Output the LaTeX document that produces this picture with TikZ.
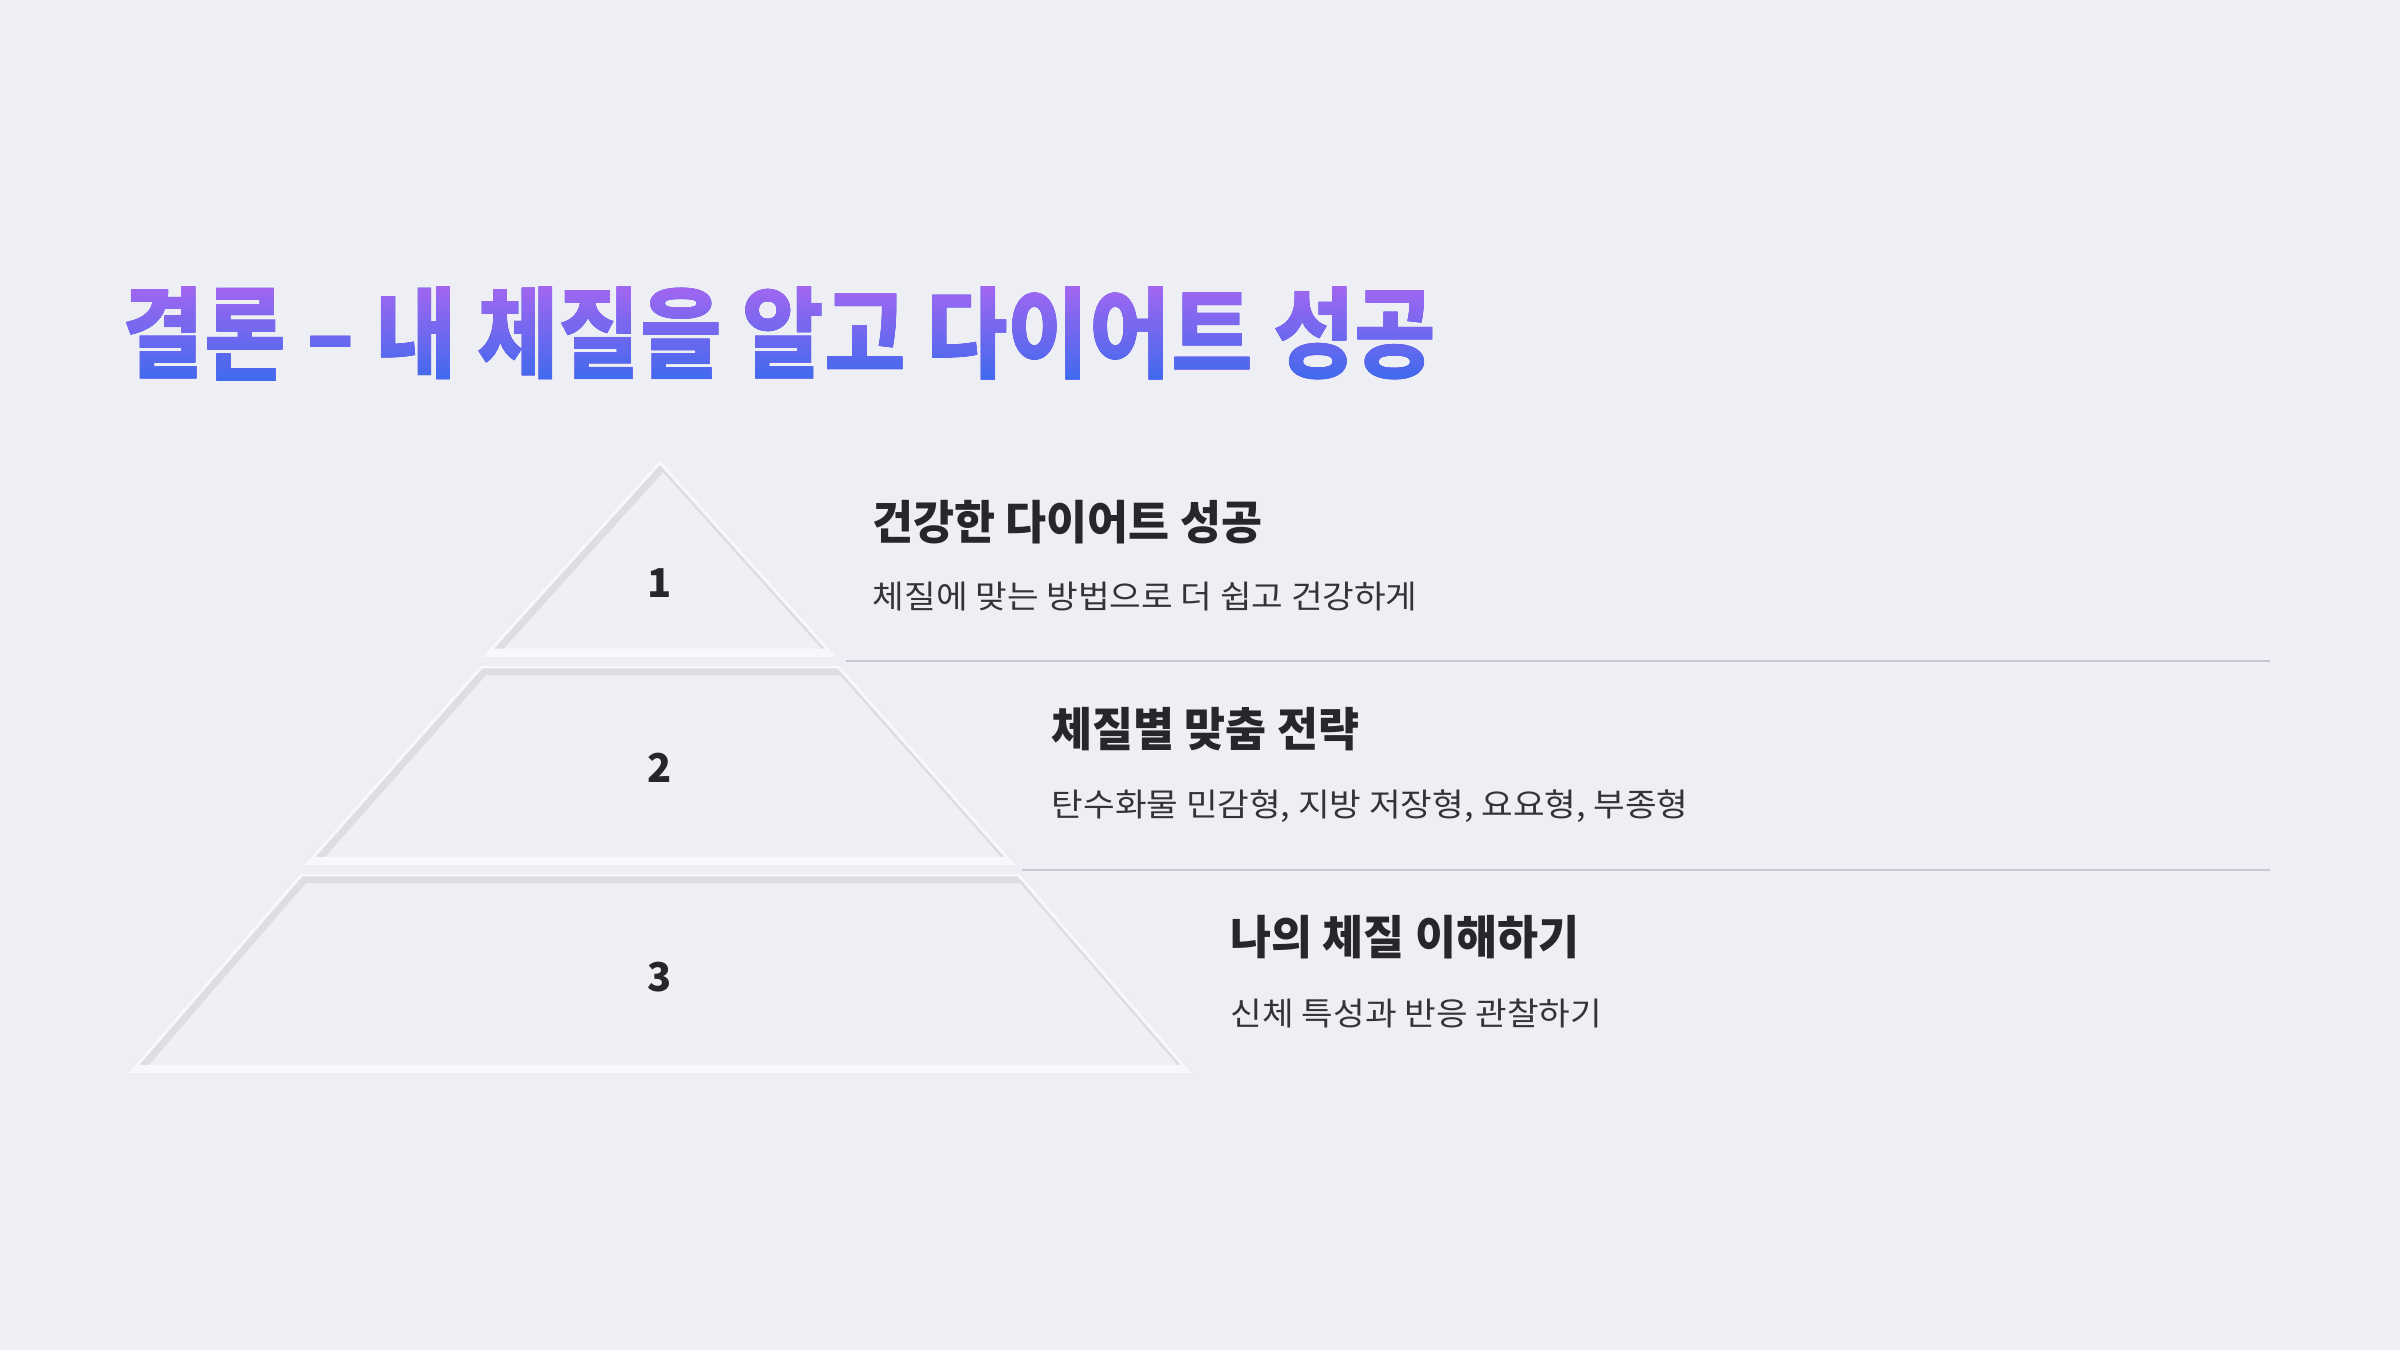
\documentclass[tikz,border=0pt]{standalone}
\usepackage{fontspec}
\setmainfont{Noto Sans CJK KR}
\newfontfamily\titlefont[FakeStretch=0.895]{Noto Sans CJK KR}
\newfontfamily\headfont[FakeStretch=0.96]{Noto Sans CJK KR}
\newfontfamily\bodyfont[FakeStretch=1.075]{Noto Sans CJK KR}
\newfontfamily\numfont{Noto Sans CJK KR}
\usepackage{tikz}
\usetikzlibrary{positioning, calc}
\definecolor{bgcol}{HTML}{EEEFF4}
\definecolor{tiercol}{HTML}{EFF0F5}
\definecolor{ink}{HTML}{26262B}
\definecolor{inksoft}{HTML}{333338}
\definecolor{rulecol}{HTML}{C6C7D3}
\definecolor{shadecol}{HTML}{DDDEE4}
\definecolor{lightcol}{HTML}{F8F8FB}
\definecolor{titletop}{HTML}{A066F0}
\definecolor{titlebot}{HTML}{3E6AEE}

\begin{document}
\begin{tikzpicture}[x=0.01cm, y=-0.01cm]
    % Styles
    \tikzstyle{head}=[anchor=base west, inner sep=0pt, text=ink, font=\headfont\bfseries\fontsize{13.2}{16}\selectfont]
    \tikzstyle{sub}=[anchor=base west, inner sep=0pt, text=inksoft, font=\bodyfont\fontsize{9.1}{11}\selectfont]
    \tikzstyle{num}=[anchor=base, inner sep=0pt, text=ink, font=\numfont\bfseries\fontsize{11.3}{13}\selectfont]
    \tikzstyle{rule}=[draw=rulecol, line width=0.6pt]
    \tikzstyle{inshadow}=[draw=shadecol, line width=3.5]
    \tikzstyle{inlight}=[draw=lightcol, line width=3]

    % Background
    \fill[bgcol] (0,0) rectangle (2400,1350);
    \useasboundingbox (0,0) rectangle (2400,1350);

    % Title (gradient via lighten)
    \node[anchor=base west, inner sep=0pt, text=black, font=\titlefont\bfseries\fontsize{28.2}{32}\selectfont] (title) at (122,370) {결론 – 내 체질을 알고 다이어트 성공};
    \begin{scope}[blend mode=lighten]
        \fill[titletop] (100,270) rectangle (1470,289);
        \shade[top color=titletop, bottom color=titlebot] (100,288) rectangle (1470,381);
        \fill[titlebot] (100,380) rectangle (1470,400);
    \end{scope}

    % Tier corners
    \coordinate (a1) at (660,460);
    \coordinate (b1) at (482,657);
    \coordinate (c1) at (837,657);
    \coordinate (a2) at (480,666);
    \coordinate (d2) at (840,666);
    \coordinate (b2) at (304,865);
    \coordinate (c2) at (1016,865);
    \coordinate (a3) at (300,874);
    \coordinate (d3) at (1020,874);
    \coordinate (b3) at (128,1073);
    \coordinate (c3) at (1192,1073);

    % Tier 1
    \begin{scope}
        \clip (a1) -- (b1) -- (c1) -- cycle;
        \fill[tiercol] (a1) -- (b1) -- (c1) -- cycle;
        \draw[inshadow] ([shift={(3,3)}]a1) -- ([shift={(3,3)}]b1) -- ([shift={(3,3)}]c1) -- cycle;
        \draw[inlight] ([shift={(0,-3)}]a1) -- ([shift={(0,-3)}]b1) -- ([shift={(0,-3)}]c1) -- cycle;
    \end{scope}
    % Tier 2
    \begin{scope}
        \clip (a2) -- (b2) -- (c2) -- (d2) -- cycle;
        \fill[tiercol] (a2) -- (b2) -- (c2) -- (d2) -- cycle;
        \draw[inshadow] ([shift={(3,3)}]a2) -- ([shift={(3,3)}]b2) -- ([shift={(3,3)}]c2) -- ([shift={(3,3)}]d2) -- cycle;
        \draw[inlight] ([shift={(0,-3)}]a2) -- ([shift={(0,-3)}]b2) -- ([shift={(0,-3)}]c2) -- ([shift={(0,-3)}]d2) -- cycle;
    \end{scope}
    % Tier 3
    \begin{scope}
        \clip (a3) -- (b3) -- (c3) -- (d3) -- cycle;
        \fill[tiercol] (a3) -- (b3) -- (c3) -- (d3) -- cycle;
        \draw[inshadow] ([shift={(3,3)}]a3) -- ([shift={(3,3)}]b3) -- ([shift={(3,3)}]c3) -- ([shift={(3,3)}]d3) -- cycle;
        \draw[inlight] ([shift={(0,-3)}]a3) -- ([shift={(0,-3)}]b3) -- ([shift={(0,-3)}]c3) -- ([shift={(0,-3)}]d3) -- cycle;
    \end{scope}

    % Numbers
    \node[num] (n1) at (660,597) {1};
    \node[num] (n2) at (660,782) {2};
    \node[num] (n3) at (660,991) {3};

    % Texts
    \node[head] (h1) at (872,539) {건강한 다이어트 성공};
    \node[sub] (s1) at (872,608) {체질에 맞는 방법으로 더 쉽고 건강하게};
    \node[head] (h2) at (1051,746) {체질별 맞춤 전략};
    \node[sub] (s2) at (1051,816) {탄수화물 민감형, 지방 저장형, 요요형, 부종형};
    \node[head] (h3) at (1230,954) {나의 체질 이해하기};
    \node[sub] (s3) at (1230,1025) {신체 특성과 반응 관찰하기};

    % Separators
    \coordinate (r1a) at (846,661);
    \coordinate (r1b) at (2270,661);
    \coordinate (r2a) at (1022,870);
    \coordinate (r2b) at (2270,870);
    \draw[rule] (r1a) -- (r1b);
    \draw[rule] (r2a) -- (r2b);
\end{tikzpicture}
\end{document}
